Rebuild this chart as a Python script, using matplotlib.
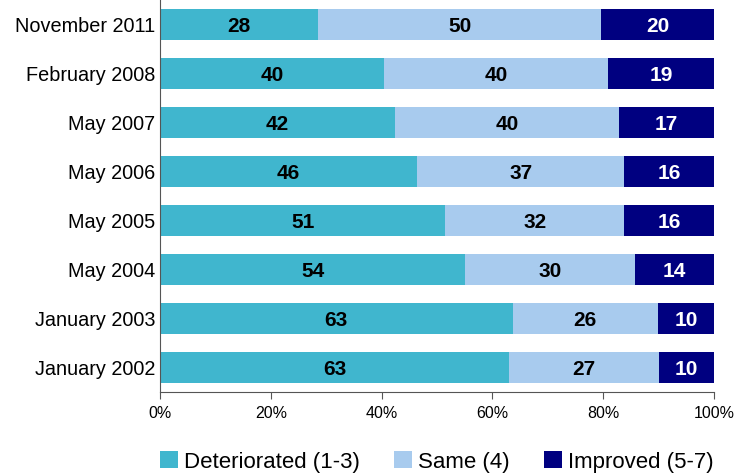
import matplotlib
matplotlib.use('Agg')
import matplotlib.pyplot as plt
import numpy as np

periods = ['November 2011', 'February 2008', 'May 2007', 'May 2006',
           'May 2005', 'May 2004', 'January 2003', 'January 2002']
deteriorated = [28, 40, 42, 46, 51, 54, 63, 63]
same = [50, 40, 40, 37, 32, 30, 26, 27]
improved = [20, 19, 17, 16, 16, 14, 10, 10]

series = [('Deteriorated (1-3)', deteriorated, '#40B6CE', 'black'),
          ('Same (4)', same, '#A8CBEE', 'black'),
          ('Improved (5-7)', improved, '#000080', 'white')]

plt.rcParams['font.family'] = ['Liberation Sans', 'DejaVu Sans']

fig = plt.figure(figsize=(7.35, 4.76), dpi=100)
ax = fig.add_axes([160/735, 84/476, 554/735, 392/476])

# bars are shares of the row total (rows don't add to exactly 100)
totals = np.array(deteriorated) + np.array(same) + np.array(improved)
y = np.arange(len(periods))
left = np.zeros(len(periods))
for name, vals, color, tcolor in series:
    share = 100 * np.array(vals) / totals
    bars = ax.barh(y, share, left=left, height=0.65, color=color, label=name)
    for b, v in zip(bars, vals):
        ax.annotate(str(v), (b.get_x() + b.get_width() / 2, b.get_y() + b.get_height() / 2),
                    xytext=(0, -1.2), textcoords='offset points',
                    ha='center', va='center', color=tcolor,
                    fontsize=15, fontweight='bold')
    left += share

ax.set_xlim(0, 100)
ax.set_ylim(len(periods) - 0.5, -0.5)
ax.set_yticks(y)
ax.set_yticklabels(periods, fontsize=14.3)
ax.set_xticks(range(0, 101, 20))
ax.set_xticklabels([f'{t}%' for t in range(0, 101, 20)], fontsize=11.5)
ax.tick_params(axis='y', length=0, pad=3.5)
ax.tick_params(axis='x', length=5, color='#555555', pad=5)
for s in ['top', 'right']:
    ax.spines[s].set_visible(False)
for s in ['left', 'bottom']:
    ax.spines[s].set_color('#555555')

fig.legend(*ax.get_legend_handles_labels(), loc='center',
           bbox_to_anchor=(437/735, 14/476), ncol=3, frameon=False,
           fontsize=16, handlelength=0.8, handleheight=0.8, columnspacing=1.55,
           handletextpad=0.27, borderaxespad=0, borderpad=0)

plt.savefig('out.png', dpi=100)
